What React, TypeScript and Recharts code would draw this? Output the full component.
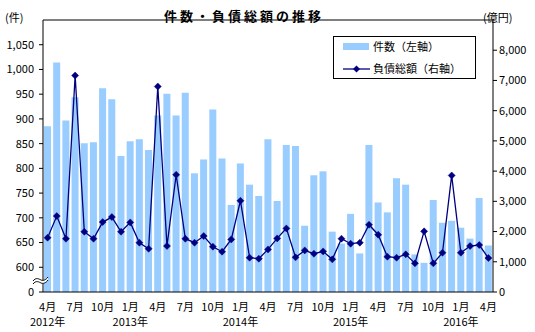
import { ComposedChart, Bar, Line, XAxis, YAxis, ReferenceLine } from 'recharts'

// 月次（2012年4月〜2016年4月）
const categories = [
  '2012/4', '2012/5', '2012/6', '2012/7', '2012/8', '2012/9', '2012/10', '2012/11', '2012/12',
  '2013/1', '2013/2', '2013/3', '2013/4', '2013/5', '2013/6', '2013/7', '2013/8', '2013/9', '2013/10', '2013/11', '2013/12',
  '2014/1', '2014/2', '2014/3', '2014/4', '2014/5', '2014/6', '2014/7', '2014/8', '2014/9', '2014/10', '2014/11', '2014/12',
  '2015/1', '2015/2', '2015/3', '2015/4', '2015/5', '2015/6', '2015/7', '2015/8', '2015/9', '2015/10', '2015/11', '2015/12',
  '2016/1', '2016/2', '2016/3', '2016/4',
]

// 件数（左軸）
const counts = [
  885, 1014, 897, 944, 851, 853, 962, 940, 825,
  855, 859, 837, 907, 951, 907, 953, 790, 818, 919, 820, 726,
  810, 767, 744, 859, 734, 847, 845, 684, 786, 794, 672, 648,
  708, 628, 847, 731, 711, 780, 767, 626, 609, 736, 690, 694,
  680, 658, 740, 644,
]

// 負債総額（右軸、億円）
const debts = [
  1796, 2512, 1763, 7163, 1994, 1763, 2314, 2479, 1994,
  2303, 1631, 1432, 6799, 1521, 3879, 1763, 1631, 1851, 1499, 1333, 1741,
  3019, 1135, 1102, 1410, 1774, 2105, 1146, 1377, 1267, 1344, 1080, 1763,
  1598, 1631, 2226, 1895, 1168, 1135, 1245, 948, 2006, 948, 1300, 3857,
  1300, 1521, 1554, 1124,
]

const countTicks = [0, 600, 650, 700, 750, 800, 850, 900, 950, 1000, 1050]
const debtTicks = [0, 1000, 2000, 3000, 4000, 5000, 6000, 7000, 8000]

// 左軸は 0 の上で 600 へ省略（波線）
const CUT = 550

const data = categories.map((period, i) => ({
  period,
  cnt: counts[i] - CUT,
  debt: debts[i],
}))

const FONT = '"Noto Sans CJK JP", "Noto Sans", sans-serif'
const BAR = '#99CCFF'
const NAVY = '#000080'

const fmt = (v: number) => v.toLocaleString('en-US')

const MonthTick = (props: any) => {
  const { x, y, payload } = props
  const [yr, mo] = String(payload.value).split('/')
  const showYear = mo === '1' || payload.index === 0
  return (
    <g fontFamily={FONT} fontSize={11} fill="#000">
      <text x={x} y={y + 19} textAnchor="middle">{mo}月</text>
      {showYear && <text x={x} y={y + 34} textAnchor="middle">{yr}年</text>}
    </g>
  )
}

const Diamond = (props: any) => {
  const { cx, cy } = props
  if (cx == null || cy == null) return null
  const r = 3.5
  return (
    <polygon
      points={`${cx},${cy - r} ${cx + r},${cy} ${cx},${cy + r} ${cx - r},${cy}`}
      fill={NAVY}
      stroke={NAVY}
      strokeWidth={0.5}
    />
  )
}

export default function App() {
  return (
    <div style={{ position: 'absolute', left: 0, top: 0, width: 535, height: 332, background: '#fff', fontFamily: FONT }}>
      <ComposedChart
        width={535}
        height={332}
        data={data}
        margin={{ top: 20, right: 0, bottom: 0, left: 0 }}
        barCategoryGap={0}
      >
        <XAxis
          dataKey="period"
          interval={2}
          tickLine={false}
          tickSize={0}
          tickMargin={0}
          height={40}
          axisLine={{ stroke: '#000' }}
          tick={<MonthTick />}
        />
        <YAxis
          yAxisId="left"
          width={43}
          domain={[0, 550]}
          ticks={countTicks.map((t) => (t === 0 ? 0 : t - CUT))}
          tickFormatter={(v: number) => (v === 0 ? '0' : fmt(v + CUT))}
          tickSize={4}
          tickMargin={5}
          axisLine={{ stroke: '#000' }}
          tickLine={{ stroke: '#000' }}
          tick={{ fill: '#000', fontSize: 11, fontFamily: FONT }}
          allowDataOverflow
        />
        <YAxis
          yAxisId="right"
          orientation="right"
          width={42}
          domain={[0, 9000]}
          ticks={debtTicks}
          tickFormatter={fmt}
          tickSize={4}
          tickMargin={2}
          axisLine={{ stroke: '#000' }}
          tickLine={{ stroke: '#000' }}
          tick={{ fill: '#000', fontSize: 11, fontFamily: FONT }}
        />
        <ReferenceLine yAxisId="left" y={550} stroke="#000" />
        <Bar yAxisId="left" dataKey="cnt" fill={BAR} barSize={7} isAnimationActive={false} />
        <Line
          yAxisId="right"
          dataKey="debt"
          stroke={NAVY}
          strokeWidth={1.3}
          dot={<Diamond />}
          activeDot={false}
          isAnimationActive={false}
        />
      </ComposedChart>

      {/* 波線（軸の省略） */}
      <svg width={535} height={332} style={{ position: 'absolute', left: 0, top: 0, pointerEvents: 'none' }}>
        <path d="M33,281 C36,277 39,279 41,280 C43,281 46,280 48,277 L48,280 C46,283 43,284 41,283 C39,282 36,280 33,284 Z" fill="#fff" />
        <path d="M33,281 C36,277 39,279 41,280 C43,281 46,280 48,277" fill="none" stroke="#000" strokeWidth={1} />
        <path d="M33,284 C36,280 39,282 41,283 C43,284 46,283 48,280" fill="none" stroke="#000" strokeWidth={1} />
      </svg>

      <div style={{ position: 'absolute', left: 0, top: 6, width: 488, textAlign: 'center', fontSize: 13, fontWeight: 'bold', letterSpacing: 3 }}>
        件数・負債総額の推移
      </div>
      <div style={{ position: 'absolute', left: 5, top: 9, fontSize: 11 }}>(件)</div>
      <div style={{ position: 'absolute', left: 483, top: 9, fontSize: 11 }}>(億円)</div>

      <div
        style={{
          position: 'absolute',
          left: 333,
          top: 36,
          width: 143,
          height: 43,
          border: '1px solid #000',
          boxSizing: 'border-box',
          background: '#fff',
          fontSize: 11,
        }}
      >
        <div style={{ position: 'absolute', left: 9, top: 6, width: 26, height: 7, background: BAR }} />
        <div style={{ position: 'absolute', left: 39, top: 2, lineHeight: '14px' }}>件数（左軸）</div>
        <svg width={30} height={10} style={{ position: 'absolute', left: 9, top: 27 }}>
          <line x1={0} y1={5} x2={27} y2={5} stroke={NAVY} strokeWidth={1.3} />
          <polygon points="13.5,1.5 17,5 13.5,8.5 10,5" fill={NAVY} />
        </svg>
        <div style={{ position: 'absolute', left: 39, top: 24, lineHeight: '14px' }}>負債総額（右軸）</div>
      </div>
    </div>
  )
}
